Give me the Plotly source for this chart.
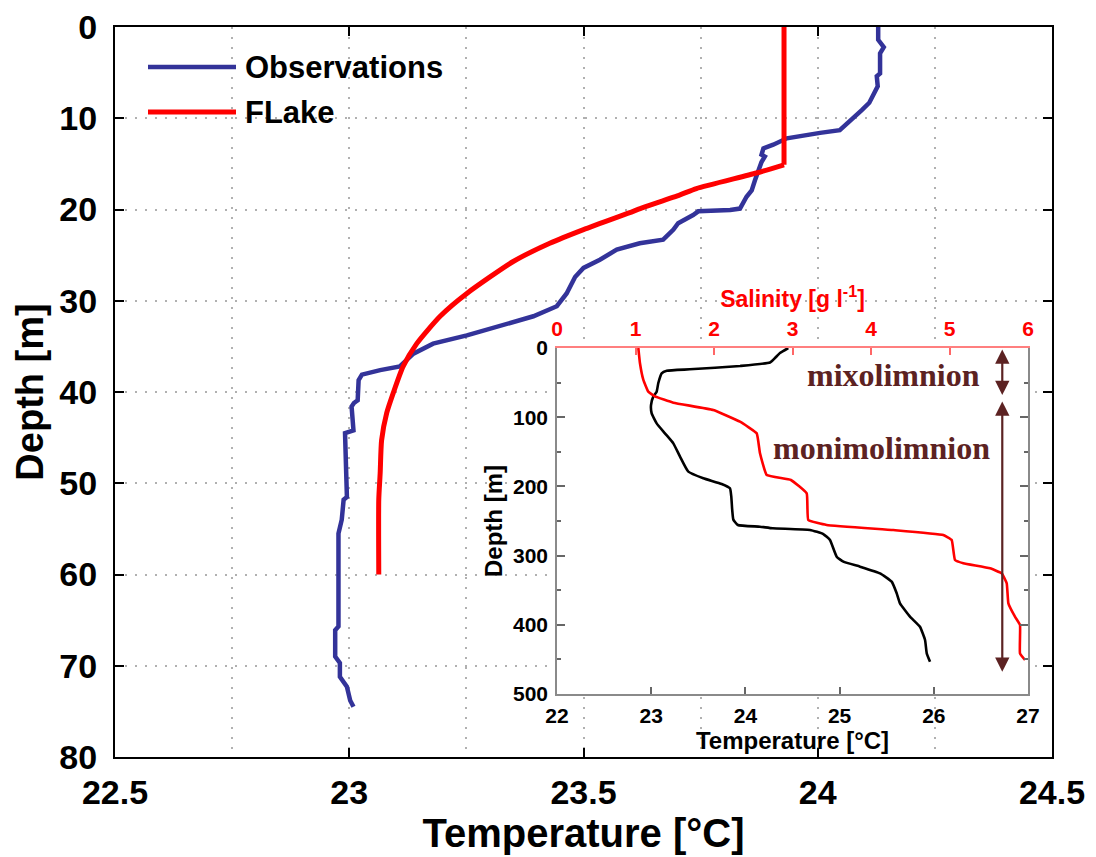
import plotly.graph_objects as go

# ---------------- Main panel data ----------------
obs_depth = [0, 1.4, 2.2, 2.9, 5.1, 5.4, 6.5, 7.6, 8.3, 9.1, 9.8, 10.6, 11.3, 11.6, 11.9, 12.2,
             12.9, 13.3, 14.0, 14.2, 14.8, 15.7, 16.8, 17.9, 18.6, 19.9, 20.05, 20.2, 20.6, 21.5,
             22.2, 23.3, 23.7, 24.4, 25.5, 26.4, 27.4, 29.2, 30.6, 31.7, 32.8, 33.8, 34.7, 35.8,
             37.2, 37.6, 38.1, 38.7, 40.9, 41.2, 41.6, 44.2, 44.5, 51.5, 51.8, 54.0, 55.5, 65.7,
             66.1, 69.0, 69.7, 71.2, 72.3, 73.8, 74.5]
obs_temp = [24.129, 24.129, 24.141, 24.133, 24.133, 24.126, 24.128, 24.118, 24.110, 24.094, 24.080,
            24.062, 24.047, 24.005, 23.962, 23.934, 23.905, 23.884, 23.880, 23.887, 23.880, 23.873,
            23.866, 23.859, 23.848, 23.834, 23.813, 23.745, 23.734, 23.702, 23.692, 23.670, 23.620,
            23.571, 23.535, 23.500, 23.482, 23.464, 23.443, 23.393, 23.322, 23.251, 23.179, 23.137,
            23.108, 23.066, 23.027, 23.020, 23.018, 23.010, 23.005, 23.009, 22.991, 22.995, 22.988,
            22.984, 22.977, 22.977, 22.970, 22.970, 22.980, 22.980, 22.995, 23.002, 23.009]

flake_depth = [0, 15.1, 16.0, 17.7, 18.4, 19.9, 20.2, 22.2, 23.7, 25.7, 29.2, 31.7, 34.7, 37.2,
               40.1, 42.3, 45.3, 48.9, 51.8, 60.0]
flake_temp = [23.928, 23.928, 23.869, 23.741, 23.706, 23.621, 23.606, 23.500, 23.428, 23.350,
              23.251, 23.194, 23.144, 23.115, 23.094, 23.080, 23.069, 23.066, 23.063, 23.063]

# ---------------- Inset data ----------------
prof_depth = [0, 7.2, 14.5, 21, 26, 30.8, 32.8, 36.6, 51, 63.1, 70.3, 82.4, 94.4, 108.9, 123.3,
              137.8, 157, 178.7, 188.3, 196.5, 202.8, 214.5, 234, 248, 255.8, 258.2, 260.5, 263,
              268.8, 277.5, 301.6, 308.8, 316, 325.6, 337.7, 354.5, 369, 388.3, 402.8, 422,
              441.2, 453.3]
prof_temp = [24.455, 24.367, 24.314, 24.261, 23.943, 23.410, 23.165, 23.111, 23.075, 23.058,
             23.022, 22.998, 23.005, 23.058, 23.146, 23.235, 23.306, 23.394, 23.553, 23.748,
             23.836, 23.850, 23.860, 23.872, 23.920, 24.155, 24.290, 24.686, 24.827, 24.898,
             24.969, 25.040, 25.217, 25.429, 25.553, 25.606, 25.641, 25.747, 25.853, 25.907,
             25.925, 25.960]

sal_depth = [0, 22, 46, 63, 70, 79, 89.6, 106.5, 123.3, 152.2, 183.5, 190.7, 210, 248.5, 255.8,
             263, 270.2, 277.5, 306.4, 311.1, 318.4, 325.6, 340, 369, 388.3, 400.3, 441.2, 450.9]
salinity = [1.036, 1.057, 1.100, 1.163, 1.248, 1.482, 1.991, 2.331, 2.544, 2.586, 2.671, 2.980,
            3.181, 3.201, 3.435, 4.284, 4.921, 5.028, 5.070, 5.176, 5.516, 5.665, 5.729, 5.750,
            5.834, 5.898, 5.898, 5.962]

# layer annotation positions (inset coordinates)
mixo_range = [0, 68]
mono_range = [75, 468]
arrow_temp = 26.727

SANS = "Liberation Sans, Arial, sans-serif"
SERIF = "Liberation Serif, Times New Roman, serif"
NAVY = "#333399"
BROWN = "#5c2222"
GRID = "#b0b0b0"

fig = go.Figure()
fig.add_trace(go.Scatter(x=obs_temp, y=obs_depth, mode="lines", name="Observations",
                         line=dict(color=NAVY, width=4.5), xaxis="x", yaxis="y"))
fig.add_trace(go.Scatter(x=flake_temp[:2], y=flake_depth[:2], mode="lines", name="FLake",
                         line=dict(color="#ff0000", width=5), xaxis="x", yaxis="y"))
fig.add_trace(go.Scatter(x=flake_temp[1:], y=flake_depth[1:], mode="lines", name="FLake",
                         line=dict(color="#ff0000", width=5, shape="spline", smoothing=0.6),
                         xaxis="x", yaxis="y"))
fig.add_trace(go.Scatter(x=prof_temp, y=prof_depth, mode="lines",
                         line=dict(color="black", width=2.6, shape="spline", smoothing=0.4),
                         xaxis="x2", yaxis="y2", showlegend=False))
fig.add_trace(go.Scatter(x=salinity, y=sal_depth, mode="lines",
                         line=dict(color="#ff0000", width=2.6, shape="spline", smoothing=0.3),
                         xaxis="x3", yaxis="y2", showlegend=False))

L, R, T, B = 115, 44, 27, 100
W, H = 1096, 857
pw, ph = W - L - R, H - T - B

def px_x(px):
    return (px - L) / pw

def px_y(py):
    return (H - B - py) / ph

main_tickfont = dict(family=SANS, size=34, color="black", weight="bold")
inset_tickfont = dict(family=SANS, size=21, color="black", weight="bold")

fig.update_layout(
    width=W, height=H,
    margin=dict(l=L, r=R, t=T, b=B, pad=0, autoexpand=False),
    paper_bgcolor="white", plot_bgcolor="white",
    showlegend=False,
    xaxis=dict(domain=[0, 1], anchor="y", range=[22.5, 24.5], automargin=False,
               tickvals=[22.5, 23, 23.5, 24, 24.5], ticktext=["22.5", "23", "23.5", "24", "24.5"],
               ticks="inside", ticklen=9, tickwidth=2, tickcolor="black",
               showline=True, linecolor="black", linewidth=2, mirror="ticks",
               showgrid=True, gridcolor=GRID, gridwidth=2, griddash="2px,8px",
               minor=dict(tick0=22.5, dtick=0.25, showgrid=True, gridcolor=GRID, gridwidth=2,
                          griddash="2px,8px", ticks=""),
               zeroline=False, tickfont=main_tickfont, ticklabelstandoff=4,
               title=dict(text="Temperature [°C]", font=dict(family=SANS, size=40, color="black", weight="bold"),
                          standoff=9)),
    yaxis=dict(domain=[0, 1], anchor="x", range=[80, 0], tick0=0, dtick=10, automargin=False,
               ticks="inside", ticklen=9, tickwidth=2, tickcolor="black",
               showline=True, linecolor="black", linewidth=2, mirror="ticks",
               showgrid=True, gridcolor=GRID, gridwidth=2, griddash="2px,8px",
               zeroline=False, tickfont=main_tickfont, ticklabelstandoff=9,
               title=dict(text="Depth [m]", font=dict(family=SANS, size=38, color="black", weight="bold"),
                          standoff=4)),
    xaxis2=dict(domain=[px_x(557), px_x(1028)], anchor="y2", range=[22, 27], dtick=1, tick0=22,
                automargin=False,
                ticks="inside", ticklen=7, tickwidth=1.5, tickcolor="#666666",
                showline=True, linecolor="#8a8a8a", linewidth=1.5, mirror=False,
                showgrid=False, zeroline=False, tickfont=inset_tickfont, ticklabelstandoff=2,
                title=dict(text="Temperature [°C]", font=dict(family=SANS, size=24, color="black", weight="bold"),
                           standoff=2)),
    xaxis3=dict(overlaying="x2", anchor="y2", side="top", range=[0, 6], dtick=1, tick0=0,
                automargin=False,
                ticks="inside", ticklen=7, tickwidth=1.5, tickcolor="#ff6666",
                showline=True, linecolor="#ff7f7f", linewidth=1.5,
                showgrid=False, zeroline=False,
                tickfont=dict(family=SANS, size=21, color="#ff0000", weight="bold"), ticklabelstandoff=2,
                title=dict(text="Salinity [g l<sup>-1</sup>]",
                           font=dict(family=SANS, size=23, color="#ff0000", weight="bold"), standoff=3)),
    yaxis2=dict(domain=[px_y(694), px_y(348)], anchor="x2", range=[500, 0], dtick=100, tick0=0,
                automargin=False,
                ticks="inside", ticklen=8, tickwidth=1.5, tickcolor="#666666",
                minor=dict(dtick=50, tick0=0, ticks="inside", ticklen=4, tickcolor="#666666", showgrid=False),
                showline=True, linecolor="#8a8a8a", linewidth=1.5, mirror="ticks",
                showgrid=False, zeroline=False, tickfont=inset_tickfont, ticklabelstandoff=3,
                title=dict(text="Depth [m]", font=dict(family=SANS, size=24, color="black", weight="bold"),
                           standoff=4)),
)

# Legend (white box hiding the grid, line samples and labels)
fig.add_shape(type="rect", xref="paper", yref="paper", x0=0, x1=px_x(462), y0=px_y(142), y1=1,
              fillcolor="white", line=dict(width=0), layer="between")
fig.add_shape(type="line", xref="paper", yref="paper", x0=px_x(148), x1=px_x(236),
              y0=px_y(67), y1=px_y(67), line=dict(color=NAVY, width=4.5))
fig.add_shape(type="line", xref="paper", yref="paper", x0=px_x(148), x1=px_x(236),
              y0=px_y(112), y1=px_y(112), line=dict(color="#ff0000", width=5))
for label, py in [("Observations", 67), ("FLake", 112)]:
    fig.add_annotation(x=px_x(243), y=px_y(py), xref="paper", yref="paper", text=label,
                       showarrow=False, xanchor="left", yanchor="middle",
                       font=dict(family=SANS, size=31, color="black", weight="bold"))

# Layer arrows and labels in the inset
for rng in (mixo_range, mono_range):
    fig.add_annotation(x=arrow_temp, y=rng[1], ax=arrow_temp, ay=rng[0], xref="x2", yref="y2",
                       axref="x2", ayref="y2", text="", showarrow=True, arrowhead=2,
                       arrowside="end+start", arrowsize=1.3, arrowwidth=2.2, arrowcolor=BROWN,
                       standoff=0, startstandoff=0)
fig.add_annotation(x=25.567, y=39, xref="x2", yref="y2", text="mixolimnion", showarrow=False,
                   font=dict(family=SERIF, size=32, color=BROWN, weight="bold"))
fig.add_annotation(x=25.45, y=144, xref="x2", yref="y2", text="monimolimnion", showarrow=False,
                   font=dict(family=SERIF, size=32, color=BROWN, weight="bold"))

fig.write_html("out.html")
